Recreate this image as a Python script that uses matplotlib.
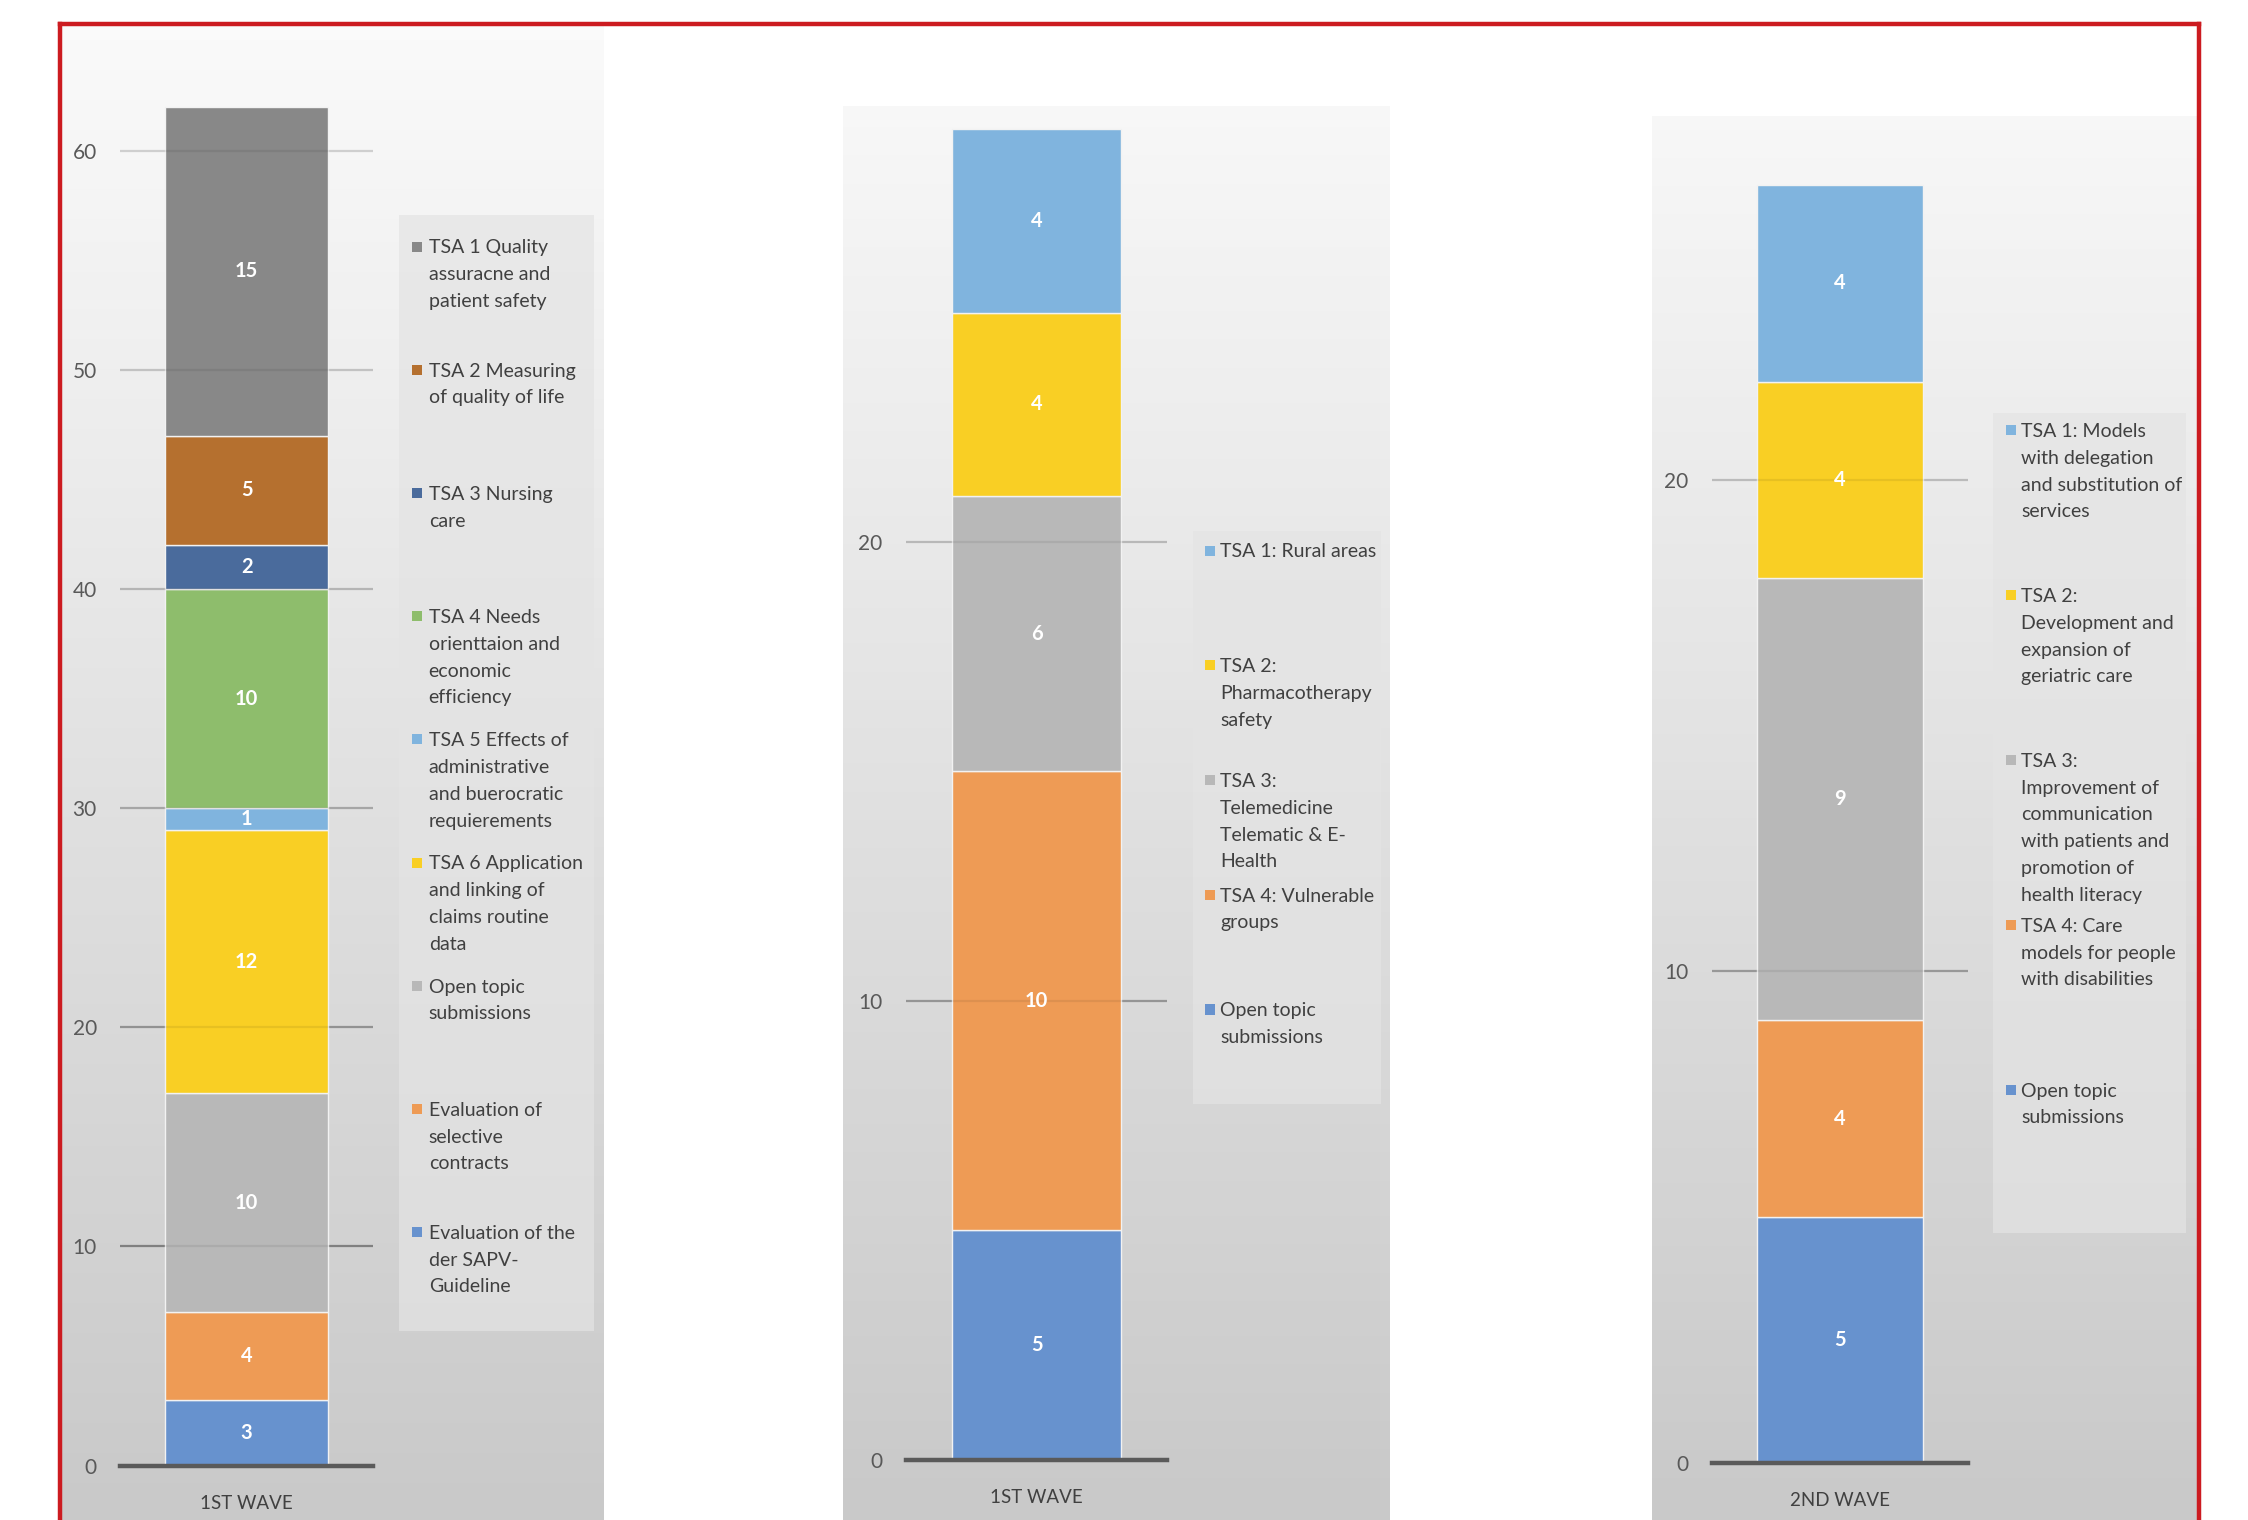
import numpy as np
import matplotlib
matplotlib.use("Agg")
import matplotlib.pyplot as plt
from matplotlib.patches import Rectangle
from matplotlib.lines import Line2D
from matplotlib.colors import LinearSegmentedColormap

plt.rcParams["font.family"] = ["Lato", "DejaVu Sans"]

# ---- data (bottom segment first) ----
wave1a_labels = [
    "Evaluation of the\nder SAPV-\nGuideline",
    "Evaluation of\nselective\ncontracts",
    "Open topic\nsubmissions",
    "TSA 6 Application\nand linking of\nclaims routine\ndata",
    "TSA 5 Effects of\nadministrative\nand buerocratic\nrequierements",
    "TSA 4 Needs\norienttaion and\neconomic\nefficiency",
    "TSA 3 Nursing\ncare",
    "TSA 2 Measuring\nof quality of life",
    "TSA 1 Quality\nassuracne and\npatient safety",
]
wave1a_values = [3, 4, 10, 12, 1, 10, 2, 5, 15]
wave1a_colors = ["#6792ce", "#ee9b55", "#b8b8b8", "#f9cf24", "#80b4de",
                 "#8ebd6c", "#4a6b9c", "#b5702f", "#888888"]

wave1b_labels = [
    "Open topic\nsubmissions",
    "TSA 4: Vulnerable\ngroups",
    "TSA 3:\nTelemedicine\nTelematic & E-\nHealth",
    "TSA 2:\nPharmacotherapy\nsafety",
    "TSA 1: Rural areas",
]
wave1b_values = [5, 10, 6, 4, 4]
wave1b_colors = ["#6792ce", "#ee9b55", "#b8b8b8", "#f9cf24", "#80b4de"]

wave2_labels = [
    "Open topic\nsubmissions",
    "TSA 4: Care\nmodels for people\nwith disabilities",
    "TSA 3:\nImprovement of\ncommunication\nwith patients and\npromotion of\nhealth literacy",
    "TSA 2:\nDevelopment and\nexpansion of\ngeriatric care",
    "TSA 1: Models\nwith delegation\nand substitution of\nservices",
]
wave2_values = [5, 4, 9, 4, 4]
wave2_colors = ["#6792ce", "#ee9b55", "#b8b8b8", "#f9cf24", "#80b4de"]

categories = ["1ST WAVE", "1ST WAVE", "2ND WAVE"]
yticks = [list(range(0, 61, 10)), [0, 10, 20], [0, 10, 20]]

# layout in reference pixel units (1568 x 1060 grid)
W, H = 1568.0, 1060.0


def fx(x):
    return x / W


def fy(y):
    return 1 - y / H


panels = [
    # bg: x0, x1, top ; ax: left, right, zero-y, top-y, ymax
    dict(bg=(42, 421, 18), ax=(84, 260, 1022, 44, 64.0), box=(278, 414, 150, 928),
         mk=291, tx=299, y0=172, step=85.9),
    dict(bg=(588, 969, 74), ax=(632, 814, 1018, 74, 29.5), box=(832, 963, 370, 770),
         mk=844, tx=851, y0=384, step=80.0),
    dict(bg=(1152, 1534, 81), ax=(1194, 1373, 1020, 81, 27.4), box=(1390, 1525, 288, 860),
         mk=1403, tx=1410, y0=300, step=115.0),
]
data = [(wave1a_labels, wave1a_values, wave1a_colors),
        (wave1b_labels, wave1b_values, wave1b_colors),
        (wave2_labels, wave2_values, wave2_colors)]

fig = plt.figure(figsize=(22.48, 15.20), dpi=100)
fig.patch.set_facecolor("white")

grad = LinearSegmentedColormap.from_list("bg", ["#fbfbfb", "#c9c9c9"])
grid_cmap = LinearSegmentedColormap.from_list("gl", ["#e8e8e8", "#b8b8b8", "#707070"])

for p, (labels, values, colors), cat, ticks in zip(panels, data, categories, yticks):
    x0, x1, top = p["bg"]
    bg = fig.add_axes([fx(x0), 0, fx(x1) - fx(x0), fy(top)], zorder=0)
    g = np.linspace(top / H, 1, 200).reshape(-1, 1)
    bg.imshow(g, cmap=grad, vmin=0, vmax=1, aspect="auto", extent=[0, 1, 0, 1])
    bg.set_axis_off()

    # legend box
    bx0, bx1, by0, by1 = p["box"]
    fig.add_artist(Rectangle((fx(bx0), fy(by1)), fx(bx1) - fx(bx0), fy(by0) - fy(by1),
                             transform=fig.transFigure, facecolor="#e4e4e4",
                             edgecolor="none", alpha=0.7, zorder=1))

    l, r, zero, ax_top, ymax = p["ax"]
    ax = fig.add_axes([fx(l), fy(zero), fx(r) - fx(l), fy(ax_top) - fy(zero)], zorder=2)
    ax.set_facecolor("none")
    ax.set_xlim(-0.5, 0.5)
    ax.set_ylim(0, ymax)

    bottom = 0
    for v, c in zip(values, colors):
        cont = ax.bar(0, v, bottom=bottom, width=0.645, color=c,
                      edgecolor="#f2f2f2", linewidth=1.0, zorder=2)
        ax.bar_label(cont, label_type="center", color="white",
                     fontsize=14.5, fontweight="bold", zorder=4)
        bottom += v

    for t in ticks:
        if t == 0:
            continue
        yfig = fy(zero) + (fy(ax_top) - fy(zero)) * t / ymax
        ax.axhline(t, color=grid_cmap(1 - yfig), lw=1.6, zorder=1)
        # faint trace of the gridline through the bar
        ax.axhline(t, color="black", lw=1.6, alpha=0.07, zorder=3)
    ax.axhline(0, color="#5a5a5a", lw=3.2, zorder=5, clip_on=False)

    for s in ax.spines.values():
        s.set_visible(False)
    ax.set_yticks(ticks)
    ax.set_xticks([0])
    ax.set_xticklabels([cat])
    ax.tick_params(axis="y", length=0, pad=17, labelsize=15, labelcolor="#595959")
    ax.tick_params(axis="x", length=0, pad=21, labelsize=13.5, labelcolor="#404040")

    # legend entries, top entry = last stacked series
    for i, (lab, c) in enumerate(zip(labels[::-1], colors[::-1])):
        yc = p["y0"] + i * p["step"]
        fig.add_artist(Rectangle((fx(p["mk"] - 3.5), fy(yc + 3.5)), fx(7), 7 / H,
                                 transform=fig.transFigure, facecolor=c,
                                 edgecolor="none", zorder=3))
        fig.text(fx(p["tx"]), fy(yc - 5), lab, ha="left", va="top",
                 fontsize=14, color="#404040", linespacing=1.7, zorder=3)

# red frame
red = "#cc1b20"
lw = 3.2
fig.add_artist(Line2D([fx(42), fx(42)], [0, fy(17)], color=red, lw=lw,
                      transform=fig.transFigure, zorder=10))
fig.add_artist(Line2D([fx(1534), fx(1534)], [0, fy(17)], color=red, lw=lw,
                      transform=fig.transFigure, zorder=10))
fig.add_artist(Line2D([fx(42), fx(1534)], [fy(17), fy(17)], color=red, lw=lw,
                      transform=fig.transFigure, zorder=10, solid_capstyle="projecting"))

fig.savefig("out.png", dpi=100)
plt.close(fig)
